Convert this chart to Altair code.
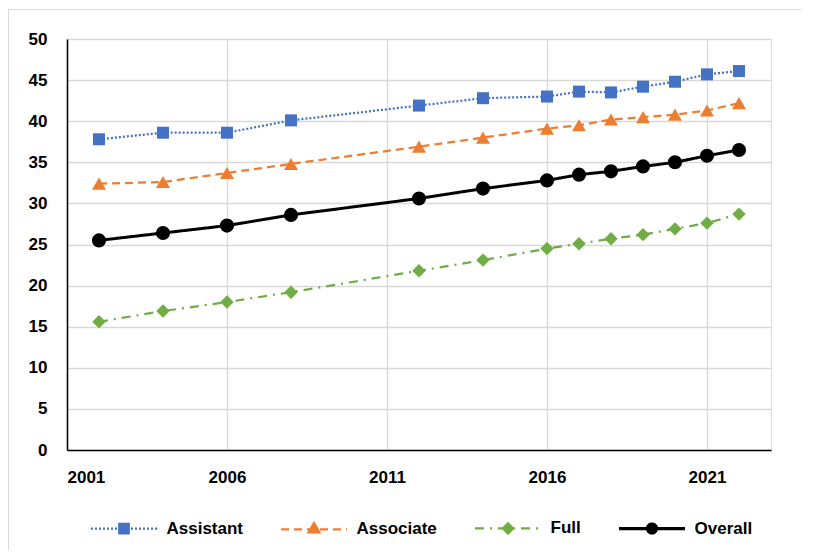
import altair as alt
import pandas as pd

years = [2002, 2004, 2006, 2008, 2012, 2014, 2016, 2017, 2018, 2019, 2020, 2021, 2022]
assistant = [37.8, 38.6, 38.6, 40.1, 41.9, 42.8, 43.0, 43.6, 43.5, 44.2, 44.8, 45.7, 46.1]
associate = [32.4, 32.6, 33.7, 34.8, 36.9, 38.0, 39.1, 39.5, 40.2, 40.5, 40.8, 41.3, 42.2]
full = [15.6, 16.9, 18.0, 19.2, 21.8, 23.1, 24.5, 25.1, 25.7, 26.2, 26.9, 27.6, 28.7]
overall = [25.5, 26.4, 27.3, 28.6, 30.6, 31.8, 32.8, 33.5, 33.9, 34.5, 35.0, 35.8, 36.5]

series_names = ["Assistant", "Associate", "Full", "Overall"]
series_values = [assistant, associate, full, overall]
x_ticks = [2001, 2006, 2011, 2016, 2021]
y_ticks = [0, 5, 10, 15, 20, 25, 30, 35, 40, 45, 50]

colors = ["#4472C4", "#ED7D31", "#70AD47", "#000000"]
dashes = [[2, 2], [8, 5], [9, 6, 2, 6], [1, 0]]
widths = [2.25, 2.25, 2.25, 3]
shapes = ["square", "triangle-up", "diamond", "circle"]
sizes = [144, 196, 180, 200]

# legend glyphs: a line plus a marker whose outline is traced several times so the dash pattern closes up
legend_paths = [
    "M-1,0H1"
    "M-0.1439,-0.1439H0.1439V0.1439H-0.1439V-0.1439H0.1439V0.1439H-0.1439Z",
    "M-1,0H1"
    "M0,-0.1895L0.1641,0.0948L-0.1641,0.0948L0,-0.1895L0.1641,0.0948L-0.1641,0.0948Z",
    "M-1,0H1"
    "M0,-0.154L0.154,0L0,0.154L-0.154,0L0,-0.154L0.154,0L0,0.154L-0.154,0"
    "L0,-0.154L0.154,0L0,0.154L-0.154,0L0,-0.154L0.154,0L0,0.154L-0.154,0Z",
    "M-1,-0.015H1M-1,0.015H1"
    "M-0.15,0A0.15,0.15,0,1,1,0.15,0A0.15,0.15,0,1,1,-0.15,0Z",
]

rows = []
for name, vals in zip(series_names, series_values):
    for yr, v in zip(years, vals):
        rows.append({"series": name, "year": yr, "value": v})
df = pd.DataFrame(rows)

FONT = "Liberation Sans"

xenc = alt.X(
    "year:Q",
    scale=alt.Scale(domain=[2001, 2023], nice=False, zero=False),
    axis=alt.Axis(values=x_ticks, format="d", title=None, grid=True, ticks=False, tickSize=0,
                  labelPadding=19, domainColor="black", domainWidth=1.5,
                  gridColor="#d9d9d9", gridWidth=1.3,
                  labelFont=FONT, labelFontSize=17, labelFontWeight="bold", labelColor="black"),
)
yenc = alt.Y(
    "value:Q",
    scale=alt.Scale(domain=[0, 50], nice=False),
    axis=alt.Axis(values=y_ticks, title=None, grid=True, ticks=False, tickSize=0,
                  labelPadding=20, domainColor="black", domainWidth=1.5,
                  gridColor="#d9d9d9", gridWidth=1.3,
                  labelFont=FONT, labelFontSize=17, labelFontWeight="bold", labelColor="black"),
)

base = alt.Chart(df)
one = alt.Chart(pd.DataFrame({"k": [0]}))

frame_top = one.mark_rule(color="#d9d9d9", strokeWidth=1).encode(
    x=alt.value(-59), x2=alt.value(800), y=alt.value(-29.5)
)
frame_left = one.mark_rule(color="#d9d9d9", strokeWidth=1).encode(
    x=alt.value(-58.5), y=alt.value(-30), y2=alt.value(700)
)

layers = [frame_top, frame_left]
for i, name in enumerate(series_names):
    sub = base.transform_filter(alt.datum.series == name)
    line = sub.mark_line(color=colors[i], strokeDash=dashes[i], strokeWidth=widths[i]).encode(
        x=xenc, y=yenc
    )
    pts = sub.mark_point(filled=True, shape=shapes[i], size=sizes[i], color=colors[i], opacity=1).encode(
        x=xenc, y=yenc
    )
    layers += [line, pts]

leg = alt.Legend(
    title=None, orient="none", legendX=22.5, legendY=454.5, direction="horizontal",
    symbolSize=4356, symbolStrokeWidth=2.25, symbolOpacity=1, labelOffset=8,
    columnPadding=33, padding=0, labelFont=FONT, labelFontSize=17, labelFontWeight="bold",
    labelColor="black", labelLimit=300,
)
legend_layer = base.transform_filter(alt.datum.year < 0).mark_point(filled=True).encode(
    x=xenc, y=yenc,
    fill=alt.Fill("series:N", scale=alt.Scale(domain=series_names, range=colors), legend=leg),
    stroke=alt.Stroke("series:N", scale=alt.Scale(domain=series_names, range=colors), legend=leg),
    shape=alt.Shape("series:N", scale=alt.Scale(domain=series_names, range=legend_paths), legend=leg),
    strokeDash=alt.StrokeDash("series:N", scale=alt.Scale(domain=series_names, range=dashes), legend=leg),
)
layers.append(legend_layer)

chart = alt.layer(*layers).properties(
    width=704, height=411,
    autosize=alt.AutoSizeParams(type="none"),
    padding={"left": 59, "top": 31, "right": 30, "bottom": 100},
).configure_view(stroke=None).configure(background="white")

chart.save("out.html", embed_options={"renderer": "svg", "actions": False})
